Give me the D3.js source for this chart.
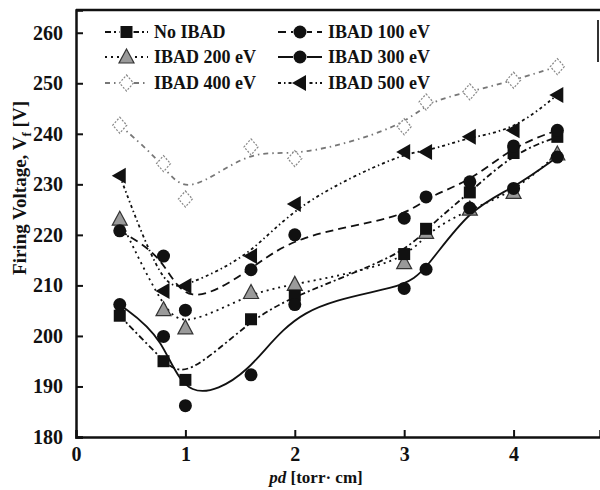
<!DOCTYPE html>
<html lang="en">
<head>
<meta charset="utf-8">
<style>
  body { margin: 0; background: #fff; }
  text { font-family: "Liberation Serif", "DejaVu Serif", serif; font-weight: bold; fill: #111; }
</style>
</head>
<body>
<div id="viz"></div>
<script src="https://cdn.jsdelivr.net/npm/d3@7/dist/d3.min.js"></script>
<script>

var w = 600, h = 490;

// pd values (torr cm)
var pd = [0.4, 0.8, 1.0, 1.6, 2.0, 3.0, 3.2, 3.6, 4.0, 4.4];

// firing voltage per series
var noIbad  = [204, 195, 191.3, 203.3, 208, 216.2, 221.2, 228.4, 236.2, 239.4];
var ibad100 = [220.8, 215.8, 205.1, 213.1, 220.0, 223.3, 227.5, 230.5, 237.6, 240.7];
var ibad200 = [223.1, 205.2, 201.6, 208.6, 210.2, 214.5, 220.5, 225.1, 228.4, 236];
var ibad300 = [206.2, 199.9, 186.2, 192.3, 206.2, 209.4, 213.2, 225.3, 229.2, 235.4];
var ibad400 = [241.7, 234.1, 227.1, 237.4, 235.1, 241.4, 246.3, 248.3, 250.6, 253.3];
var ibad500 = [231.7, 208.9, 209.9, 215.8, 226.1, 236.4, 236.4, 239.4, 240.7, 247.7];

var seriesNames = ["No IBAD", "IBAD 100 eV", "IBAD 200 eV", "IBAD 300 eV", "IBAD 400 eV", "IBAD 500 eV"];
var yTicks = [180, 190, 200, 210, 220, 230, 240, 250, 260];
var xTicks = [0, 1, 2, 3, 4];

var series = [
  {name: seriesNames[0], vals: noIbad,  marker: "square",   dash: "6,3,2,3",     stroke: "#111"},
  {name: seriesNames[1], vals: ibad100, marker: "circle",   dash: "8,5",         stroke: "#111"},
  {name: seriesNames[2], vals: ibad200, marker: "triangle", dash: "2,4",         stroke: "#111"},
  {name: seriesNames[3], vals: ibad300, marker: "circle",   dash: null,          stroke: "#111"},
  {name: seriesNames[4], vals: ibad400, marker: "diamond",  dash: "5,4,1.5,4",   stroke: "#777"},
  {name: seriesNames[5], vals: ibad500, marker: "left",     dash: "3,3,1.5,3",   stroke: "#111"}
];

var svg = d3.select("#viz").append("svg")
  .attr("width", w).attr("height", h);

var x = d3.scaleLinear().domain([0, 4.79]).range([76, 600]);
var y = d3.scaleLinear().domain([180, 264.5]).range([437, 10]);

// frame
svg.append("line").attr("x1", 76).attr("x2", 600).attr("y1", 10).attr("y2", 10)
  .style("stroke", "#111").style("stroke-width", 2.5);
svg.append("line").attr("x1", 598).attr("x2", 598).attr("y1", 20).attr("y2", 62)
  .style("stroke", "#333").style("stroke-width", 2);

// axes, ticks pointing inward
var yAxis = d3.axisLeft(y).tickValues(yTicks).tickSize(-7).tickPadding(13);
var gy = svg.append("g").attr("transform", "translate(76,0)").call(yAxis);
var xAxis = d3.axisBottom(x).tickValues(xTicks).tickSize(-7).tickPadding(10)
  .tickFormat(d3.format("d"));
var gx = svg.append("g").attr("transform", "translate(0,437)").call(xAxis);

[gy, gx].forEach(function(g){
  g.select(".domain").style("stroke", "#111").style("stroke-width", 2.5);
  g.selectAll(".tick line").style("stroke", "#111").style("stroke-width", 2);
  g.selectAll(".tick text")
    .style("font-family", "'Liberation Serif', serif")
    .style("font-weight", "bold")
    .style("font-size", "20px")
    .style("fill", "#111");
});
gx.selectAll(".tick").filter(function(d){ return d === 0; }).select("line").remove();

// axis titles
var yt = svg.append("text")
  .attr("transform", "translate(26,188) rotate(-90)")
  .attr("text-anchor", "middle")
  .style("font-size", "19px");
yt.append("tspan").text("Firing Voltage, V");
yt.append("tspan").text("f").attr("dy", 5).style("font-size", "13px");
yt.append("tspan").text(" [V]").attr("dy", -5);

var xt = svg.append("text")
  .attr("x", 316).attr("y", 483)
  .attr("text-anchor", "middle")
  .style("font-size", "17px");
xt.append("tspan").text("pd").style("font-style", "italic");
xt.append("tspan").text(" [torr\u00b7 cm]");

// markers
function drawMarker(g, kind, cx, cy){
  switch(kind){
    case "square":
      g.append("rect").attr("x", cx - 6).attr("y", cy - 6).attr("width", 12).attr("height", 12)
        .style("fill", "#111");
      break;
    case "circle":
      g.append("circle").attr("cx", cx).attr("cy", cy).attr("r", 6.5).style("fill", "#111");
      break;
    case "triangle":
      g.append("path").attr("d", "M" + cx + "," + (cy - 8) + "L" + (cx + 7.5) + "," + (cy + 6) + "L" + (cx - 7.5) + "," + (cy + 6) + "Z")
        .style("fill", "#9a9a9a").style("stroke", "#333").style("stroke-width", 1.2);
      break;
    case "diamond":
      g.append("path").attr("d", "M" + cx + "," + (cy - 8) + "L" + (cx + 7) + "," + cy + "L" + cx + "," + (cy + 8) + "L" + (cx - 7) + "," + cy + "Z")
        .style("fill", "#fff").style("stroke", "#888").style("stroke-width", 1.2)
        .style("stroke-dasharray", "2,1.5");
      break;
    case "left":
      g.append("path").attr("d", "M" + (cx - 8) + "," + cy + "L" + (cx + 6) + "," + (cy - 8) + "L" + (cx + 6) + "," + (cy + 8) + "Z")
        .style("fill", "#111");
      break;
  }
}

var line = d3.line()
  .x(function(d){ return x(d[0]); })
  .y(function(d){ return y(d[1]); })
  .curve(d3.curveBasis);

// lines first, then markers
series.forEach(function(s){
  var pts = pd.map(function(p, i){ return [p, s.vals[i]]; });
  svg.append("path")
    .attr("d", line(pts))
    .style("fill", "none")
    .style("stroke", s.stroke)
    .style("stroke-width", 1.8)
    .style("stroke-dasharray", s.dash);
});

var drawOrder = [4, 2, 0, 3, 1, 5];
drawOrder.forEach(function(k){
  var s = series[k];
  var g = svg.append("g");
  pd.forEach(function(p, i){
    drawMarker(g, s.marker, x(p), y(s.vals[i]));
  });
});

// legend
var legendRows = [32, 57, 83];
var legendCols = [{x0: 105, x1: 148, tx: 154}, {x0: 278, x1: 322, tx: 328}];
series.forEach(function(s, i){
  var col = legendCols[i % 2], ry = legendRows[Math.floor(i / 2)];
  var g = svg.append("g");
  g.append("line").attr("x1", col.x0).attr("x2", col.x1).attr("y1", ry).attr("y2", ry)
    .style("stroke", s.stroke).style("stroke-width", 1.8).style("stroke-dasharray", s.dash);
  g.append("rect").attr("x", (col.x0 + col.x1) / 2 - 7).attr("y", ry - 8).attr("width", 14).attr("height", 16)
    .style("fill", "#fff");
  drawMarker(g, s.marker, (col.x0 + col.x1) / 2, ry);
  g.append("text").attr("x", col.tx).attr("y", ry + 6)
    .style("font-size", "18px")
    .text(s.name);
});

</script>
</body>
</html>
